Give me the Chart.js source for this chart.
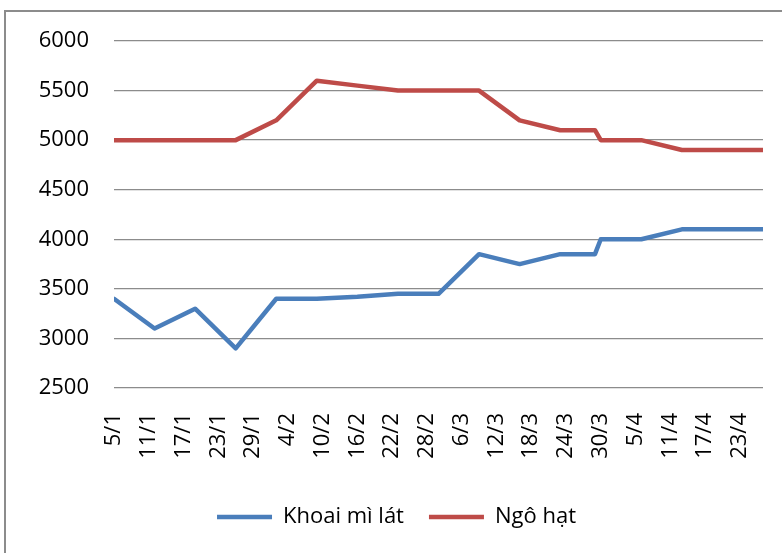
<!DOCTYPE html>
<html>
<head>
<meta charset="utf-8">
<title>Khoai mì lát / Ngô hạt</title>
<script src="https://cdn.jsdelivr.net/npm/chart.js@4.4.1/dist/chart.umd.min.js"></script>
<style>
  html, body { margin: 0; padding: 0; background: #fff; }
  #wrap { position: relative; width: 782px; height: 553px; overflow: hidden; }
  #frame {
    position: absolute; left: 4px; top: 10px; width: 900px; height: 700px;
    border-top: 2px solid #8c8c8c; border-left: 2px solid #8c8c8c;
  }
  #chart { position: absolute; left: 0; top: 0; }
</style>
</head>
<body>
<div id="wrap">
  <div id="frame"></div>
  <canvas id="chart" width="782" height="553"></canvas>
</div>
<script>
// ===== DATA =====
const dates = ["5/1", "12/1", "19/1", "26/1", "2/2", "9/2", "16/2", "23/2", "2/3",
  "9/3", "16/3", "23/3", "29/3", "30/3", "6/4", "13/4", "20/4", "27/4"];
const khoaiMiLat = [3400, 3100, 3300, 2900, 3400, 3400, 3420, 3450, 3450,
  3850, 3750, 3850, 3850, 4000, 4000, 4100, 4100, 4100];
const ngoHat = [5000, 5000, 5000, 5000, 5200, 5600, 5550, 5500, 5500,
  5500, 5200, 5100, 5100, 5000, 5000, 4900, 4900, 4900];
const tickLabels = ["5/1", "11/1", "17/1", "23/1", "29/1", "4/2", "10/2", "16/2", "22/2",
  "28/2", "6/3", "12/3", "18/3", "24/3", "30/3", "5/4", "11/4", "17/4", "23/4"];
const yTicks = [2500, 3000, 3500, 4000, 4500, 5000, 5500, 6000];

// "d/m" -> days since the first date (non-leap year)
function dayOf(s) {
  const [d, m] = s.split("/").map(Number);
  return (Date.UTC(2015, m - 1, d) - Date.UTC(2015, 0, 5)) / 86400000;
}
const toPoints = vals => vals.map((v, i) => ({ x: dayOf(dates[i]), y: v }));

const FONT = { family: "'Open Sans', sans-serif", size: 22 };

// ===== CHART =====
new Chart(document.getElementById("chart"), {
  type: "line",
  data: {
    datasets: [
      { label: "Khoai mì lát", data: toPoints(khoaiMiLat), borderColor: "#4a7ebb", backgroundColor: "#4a7ebb" },
      { label: "Ngô hạt", data: toPoints(ngoHat), borderColor: "#be4b48", backgroundColor: "#be4b48" }
    ]
  },
  options: {
    responsive: false,
    animation: false,
    datasets: {
      line: {
        borderWidth: 4.5, pointRadius: 0, tension: 0,
        borderCapStyle: "round", borderJoinStyle: "round"
      }
    },
    layout: { padding: { top: 41, left: 30, right: 19, bottom: 15 } },
    plugins: {
      tooltip: { enabled: false },
      legend: {
        position: "bottom",
        labels: {
          color: "#000", font: FONT, padding: 25,
          usePointStyle: true, pointStyle: "line", pointStyleWidth: 55
        }
      }
    },
    scales: {
      x: {
        type: "linear",
        min: dayOf(dates[0]),
        max: dayOf(dates[dates.length - 1]),
        afterBuildTicks: s => { s.ticks = tickLabels.map(t => ({ value: dayOf(t) })); },
        afterFit: s => { s.height = 93; s.paddingLeft = 0; s.paddingRight = 0; },
        grid: { display: false, drawTicks: false },
        border: { display: false },
        ticks: {
          color: "#000", font: FONT, padding: 25,
          minRotation: 90, maxRotation: 90, autoSkip: false,
          callback: (v, i) => tickLabels[i]
        }
      },
      y: {
        min: yTicks[0],
        max: yTicks[yTicks.length - 1],
        afterBuildTicks: s => { s.ticks = yTicks.map(v => ({ value: v })); },
        afterFit: s => { s.width = 84; },
        grid: { color: "#8c8c8c", lineWidth: 1.3, drawTicks: false },
        border: { display: false },
        ticks: { color: "#000", font: FONT, padding: 25, callback: v => String(v) }
      }
    }
  }
});
</script>
</body>
</html>
